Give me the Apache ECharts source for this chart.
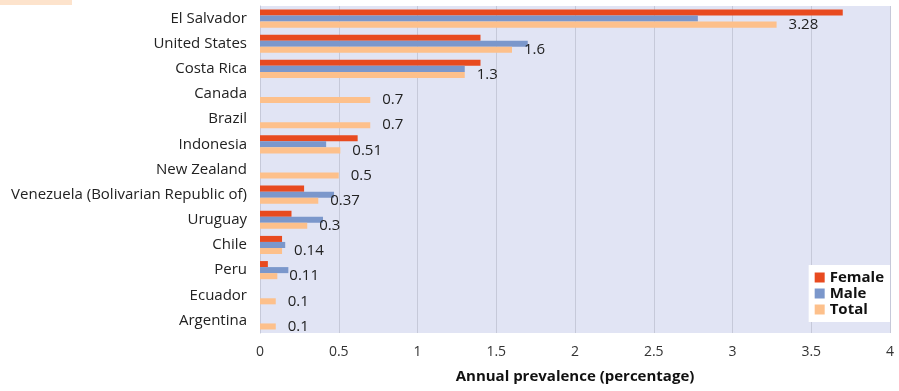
<!DOCTYPE html>
<html><head><meta charset="utf-8">
<script src="https://cdn.jsdelivr.net/npm/echarts@6/dist/echarts.min.js"></script>
<style>html,body{margin:0;padding:0;background:#fff}#c{width:899px;height:391px}</style>
</head><body><div id="c"></div>
<script>
const categories = ["El Salvador","United States","Costa Rica","Canada","Brazil","Indonesia","New Zealand","Venezuela (Bolivarian Republic of)","Uruguay","Chile","Peru","Ecuador","Argentina"];
const female = [3.7,1.4,1.4,null,null,0.62,null,0.28,0.2,0.14,0.05,null,null];
const male   = [2.78,1.7,1.3,null,null,0.42,null,0.47,0.4,0.16,0.18,null,null];
const total  = [3.28,1.6,1.3,0.7,0.7,0.51,0.5,0.37,0.3,0.14,0.11,0.1,0.1];
const xTicks = [0,0.5,1,1.5,2,2.5,3,3.5,4];

const font = "'Open Sans', 'Noto Sans', sans-serif";
const chart = echarts.init(document.getElementById('c'));
chart.setOption({
  animation:false,
  textStyle:{fontFamily:font},
  graphic:[{type:'rect',left:0,top:0,shape:{width:72,height:5},style:{fill:'#fde3cc'}}],
  grid:{left:260,right:9,top:6,bottom:58,show:true,backgroundColor:'#e1e4f4',borderWidth:0},
  legend:{
    data:['Female','Male','Total'],orient:'vertical',right:9,bottom:69,
    backgroundColor:'#fff',padding:[5,6,5,6],itemGap:1,itemWidth:10,itemHeight:10,
    icon:'rect',textStyle:{fontFamily:font,fontSize:15,fontWeight:'bold',color:'#111'}
  },
  xAxis:{
    type:'value',min:0,max:4,interval:0.5,
    name:'Annual prevalence (percentage)',nameLocation:'middle',nameGap:36,
    nameTextStyle:{fontFamily:font,fontSize:15,fontWeight:'bold',color:'#111'},
    axisLine:{show:false},axisTick:{show:false},
    axisLabel:{fontFamily:font,fontSize:14,color:'#333',margin:12,formatter:v=>String(v)},
    splitLine:{show:true,lineStyle:{color:'#c6c9d9',width:1}}
  },
  yAxis:{
    type:'category',data:categories,inverse:true,
    axisLine:{show:true,lineStyle:{color:'#c6c9d9'}},axisTick:{show:false},
    axisLabel:{fontFamily:font,fontSize:15,color:'#222',margin:13}
  },
  series:[
    {name:'Female',type:'bar',data:female,itemStyle:{color:'#e84a1f'},barGap:'0%',barCategoryGap:'28%'},
    {name:'Male',type:'bar',data:male,itemStyle:{color:'#7b97cb'},barGap:'0%',barCategoryGap:'28%'},
    {name:'Total',type:'bar',data:total,itemStyle:{color:'#fdc08b'},barGap:'0%',barCategoryGap:'28%',
     label:{show:true,position:'right',distance:12,fontFamily:font,fontSize:15,color:'#222'}}
  ]
});
</script></body></html>
